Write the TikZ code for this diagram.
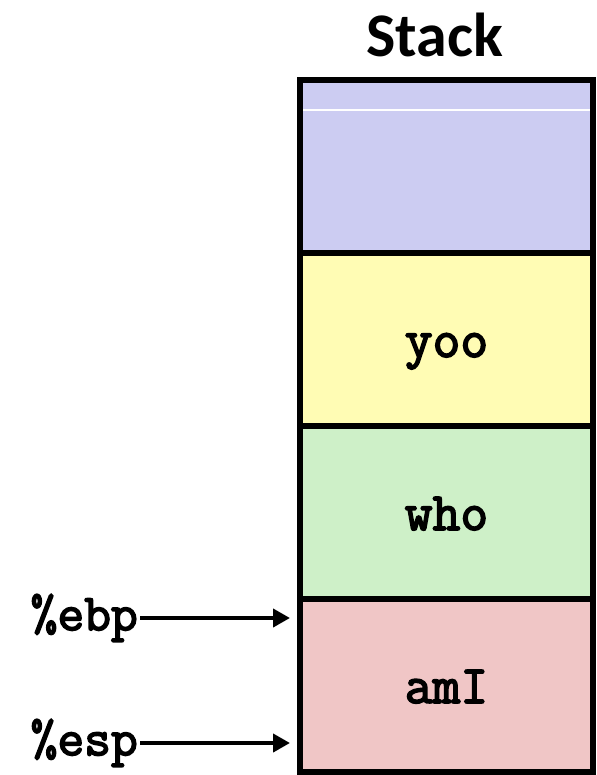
\documentclass[tikz,border=0pt]{standalone}
\usepackage{fontspec}
\setsansfont{Carlito}
\setmonofont{Latin Modern Mono}[BoldFont={Latin Modern Mono},
                                BoldFeatures={FakeBold=3}]
\usetikzlibrary{arrows.meta,
                chains,
                positioning}
\definecolor{stackblue}{RGB}{204,204,242}
\definecolor{stackyellow}{RGB}{255,252,180}
\definecolor{stackgreen}{RGB}{206,240,200}
\definecolor{stackred}{RGB}{240,198,198}

\begin{document}
\begin{tikzpicture}[x=1pt, y=1pt,
node distance = 0pt and 0pt,
  start chain = A going below,
 frame/.style = {rectangle, draw, line width=6pt, outer sep=0pt,
                 minimum width=293pt, minimum height=173pt,
                 text height=35pt, text depth=0pt,
                 font=\ttfamily\bfseries\fontsize{54}{54}\selectfont,
                 on chain},
   reg/.style = {inner sep=2pt,
                 font=\ttfamily\bfseries\fontsize{52}{52}\selectfont},
   ptr/.style = {line width=4pt, -{Triangle[length=17pt, width=18pt]}},
                        ]
\useasboundingbox (0,0) rectangle (596,-775);
% stack frames, top to bottom
\node[frame, fill=stackblue] at (446.5,-166.5) {};         % A-1
\node[frame, fill=stackyellow] {yoo};
\node[frame, fill=stackgreen]  {who};
\node[frame, fill=stackred]    {amI};                       % A-4
\draw[white, line width=1.5pt]
    ([shift={(3pt,-30pt)}]A-1.north west) -- ([shift={(-3pt,-30pt)}]A-1.north east);
\node (title) [above=23pt of A-1, xshift=-12pt, inner sep=0pt,
               font=\sffamily\bfseries\fontsize{62}{62}\selectfont] {Stack};
% registers
\coordinate (ebp tip) at ([shift={(-10pt,-19pt)}]A-4.north west);
\coordinate (esp tip) at ([shift={(-10pt,29pt)}]A-4.south west);
\node (ebp) [reg, left=150pt of ebp tip] {\%ebp};
\node (esp) [reg, left=150pt of esp tip] {\%esp};
\draw[ptr] (ebp) -- (ebp tip);
\draw[ptr] (esp) -- (esp tip);
\end{tikzpicture}
\end{document}
